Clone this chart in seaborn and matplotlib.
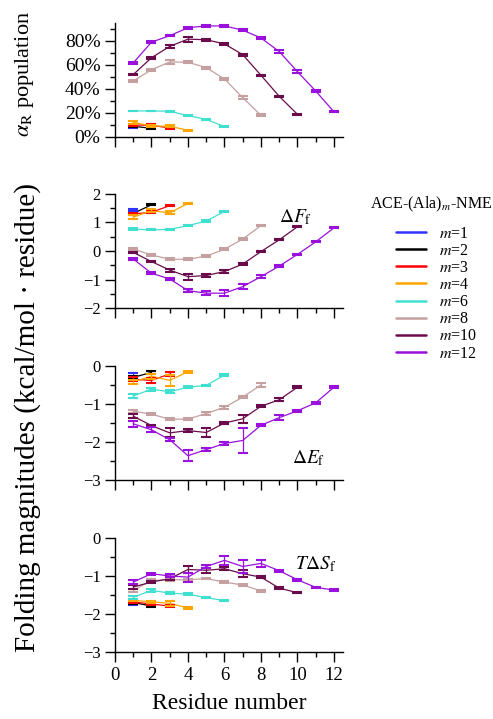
import matplotlib
matplotlib.use("Agg")
import matplotlib.pyplot as plt
from matplotlib.lines import Line2D
from matplotlib.ticker import MultipleLocator, PercentFormatter
import numpy as np
import pandas as pd
import seaborn as sns

# peptide lengths and their colours
M_VALUES = [1, 2, 3, 4, 6, 8, 10, 12]
COLORS = ["#3333ff", "#000000", "#ff0000", "#ffa500", "#40e0d0",
          "#c4a0a0", "#6a0c4c", "#9a10dc"]

# alpha_R population per residue (fraction)
ALPHA = {
    1: [0.083],
    2: [0.089, 0.072],
    3: [0.100, 0.097, 0.075],
    4: [0.122, 0.092, 0.089, 0.056],
    6: [0.217, 0.217, 0.214, 0.178, 0.147, 0.086],
    8: [0.467, 0.560, 0.625, 0.622, 0.578, 0.483, 0.328, 0.180],
    10: [0.520, 0.660, 0.755, 0.815, 0.810, 0.775, 0.686, 0.514, 0.339, 0.189],
    12: [0.617, 0.790, 0.844, 0.910, 0.925, 0.925, 0.890, 0.825, 0.712, 0.544, 0.383, 0.210],
}
ALPHA_ERR = {
    1: [0.008],
    2: [0.008, 0.005],
    3: [0.010, 0.008, 0.006],
    4: [0.012, 0.008, 0.010, 0.004],
    6: [0.003, 0.003, 0.003, 0.004, 0.004, 0.004],
    8: [0.008, 0.010, 0.015, 0.008, 0.008, 0.010, 0.010, 0.008],
    10: [0.006, 0.008, 0.014, 0.022, 0.010, 0.008, 0.008, 0.006, 0.004, 0.004],
    12: [0.006, 0.010, 0.006, 0.008, 0.006, 0.010, 0.010, 0.010, 0.010, 0.010, 0.006, 0.004],
}

# folding free energy per residue (kcal/mol)
DF = {
    1: [1.44],
    2: [1.32, 1.62],
    3: [1.30, 1.36, 1.59],
    4: [1.19, 1.41, 1.34, 1.67],
    6: [0.77, 0.74, 0.76, 0.89, 1.05, 1.39],
    8: [0.07, -0.14, -0.29, -0.29, -0.18, 0.06, 0.42, 0.89],
    10: [-0.05, -0.37, -0.67, -0.90, -0.86, -0.72, -0.46, -0.02, 0.39, 0.85],
    12: [-0.28, -0.78, -0.98, -1.39, -1.48, -1.48, -1.25, -0.90, -0.53, -0.12, 0.32, 0.81],
}
DF_ERR = {
    1: [0.03],
    2: [0.03, 0.02],
    3: [0.03, 0.03, 0.02],
    4: [0.08, 0.05, 0.05, 0.02],
    6: [0.02, 0.02, 0.02, 0.02, 0.02, 0.02],
    8: [0.04, 0.03, 0.04, 0.03, 0.03, 0.04, 0.04, 0.03],
    10: [0.03, 0.03, 0.05, 0.10, 0.05, 0.04, 0.03, 0.02, 0.02, 0.02],
    12: [0.03, 0.04, 0.04, 0.04, 0.06, 0.10, 0.08, 0.06, 0.04, 0.03, 0.02, 0.02],
}

# folding enthalpy per residue (kcal/mol)
DE = {
    1: [-0.24],
    2: [-0.30, -0.17],
    3: [-0.35, -0.38, -0.21],
    4: [-0.42, -0.27, -0.38, -0.15],
    6: [-0.79, -0.61, -0.68, -0.56, -0.51, -0.24],
    8: [-1.19, -1.27, -1.40, -1.40, -1.25, -1.09, -0.82, -0.50],
    10: [-1.32, -1.57, -1.76, -1.70, -1.75, -1.50, -1.39, -1.06, -0.89, -0.56],
    12: [-1.52, -1.68, -1.94, -2.36, -2.20, -2.04, -1.96, -1.56, -1.36, -1.18, -0.97, -0.56],
}
DE_ERR = {
    1: [0.05],
    2: [0.04, 0.03],
    3: [0.05, 0.06, 0.05],
    4: [0.06, 0.06, 0.14, 0.03],
    6: [0.05, 0.04, 0.04, 0.02, 0.02, 0.02],
    8: [0.04, 0.02, 0.02, 0.02, 0.03, 0.05, 0.02, 0.05],
    10: [0.05, 0.03, 0.12, 0.05, 0.12, 0.03, 0.10, 0.03, 0.04, 0.03],
    12: [0.08, 0.07, 0.04, 0.15, 0.05, 0.03, 0.34, 0.03, 0.06, 0.02, 0.02, 0.02],
}

# T * folding entropy per residue (kcal/mol)
TDS = {
    1: [-1.74],
    2: [-1.70, -1.79],
    3: [-1.68, -1.74, -1.79],
    4: [-1.64, -1.68, -1.72, -1.84],
    6: [-1.56, -1.38, -1.45, -1.48, -1.57, -1.65],
    8: [-1.38, -1.12, -1.10, -1.10, -1.07, -1.16, -1.24, -1.39],
    10: [-1.29, -1.16, -1.07, -0.83, -0.85, -0.81, -0.94, -1.03, -1.32, -1.44],
    12: [-1.16, -0.94, -1.00, -1.03, -0.75, -0.59, -0.75, -0.67, -0.86, -1.10, -1.30, -1.37],
}
TDS_ERR = {
    1: [0.03],
    2: [0.03, 0.02],
    3: [0.02, 0.02, 0.02],
    4: [0.03, 0.03, 0.07, 0.02],
    6: [0.04, 0.03, 0.02, 0.02, 0.02, 0.02],
    8: [0.03, 0.03, 0.02, 0.02, 0.02, 0.02, 0.02, 0.02],
    10: [0.05, 0.03, 0.04, 0.08, 0.06, 0.04, 0.10, 0.02, 0.02, 0.02],
    12: [0.06, 0.03, 0.04, 0.12, 0.04, 0.12, 0.17, 0.10, 0.03, 0.02, 0.02, 0.02],
}

sns.set_theme(style="ticks")
plt.rcParams["font.family"] = ["Liberation Serif", "DejaVu Serif"]
plt.rcParams["mathtext.fontset"] = "stix"
plt.rcParams["axes.linewidth"] = 1.0
plt.rcParams["text.color"] = "black"


def to_long(values, errors):
    rows = []
    for m in M_VALUES:
        for i, (v, e) in enumerate(zip(values[m], errors[m])):
            rows.append({"m": m, "residue": i + 1, "value": v, "err": e})
    return pd.DataFrame(rows)


def draw_panel(ax, values, errors):
    df = to_long(values, errors)
    palette = dict(zip(M_VALUES, COLORS))
    sns.lineplot(data=df, x="residue", y="value", hue="m", palette=palette,
                 legend=False, lw=0.9, ax=ax)
    for m in M_VALUES:
        sub = df[df["m"] == m]
        ax.errorbar(sub["residue"], sub["value"], yerr=sub["err"], fmt="none",
                    ecolor=palette[m], elinewidth=0.9, capsize=3.4, capthick=1.5)
    ax.set_xlim(0, 12.5)
    ax.xaxis.set_major_locator(MultipleLocator(2))
    ax.xaxis.set_minor_locator(MultipleLocator(1))
    ax.tick_params(which="major", direction="out", length=7, width=1.0,
                   labelsize=12, colors="black")
    ax.tick_params(which="minor", direction="out", length=3.5, width=1.0,
                   colors="black")
    for s in ax.spines.values():
        s.set_color("black")
    ax.set_xlabel("")
    ax.set_ylabel("")
    sns.despine(ax=ax)


fig = plt.figure(figsize=(4.93, 7.19), dpi=100)
left, width, height = 0.2333, 0.4625, 0.1586
bottoms = [0.8095, 0.5716, 0.3324, 0.0932]
axes = [fig.add_axes([left, b, width, height]) for b in bottoms]

# panel 1: alpha population
ax = axes[0]
draw_panel(ax, ALPHA, ALPHA_ERR)
ax.set_ylim(0, 0.95)
ax.yaxis.set_major_locator(MultipleLocator(0.2))
ax.yaxis.set_minor_locator(MultipleLocator(0.1))
ax.yaxis.set_major_formatter(PercentFormatter(xmax=1, decimals=0))
ax.tick_params(axis="y", labelsize=14)
ax.tick_params(axis="x", labelbottom=False)

# panel 2: free energy
ax = axes[1]
draw_panel(ax, DF, DF_ERR)
ax.set_ylim(-2, 2)
ax.yaxis.set_major_locator(MultipleLocator(1))
ax.yaxis.set_minor_locator(MultipleLocator(0.5))
ax.tick_params(axis="x", labelbottom=False)
ax.text(9.9, 1.2, r"$\Delta F_{\mathrm{f}}$", fontsize=14, ha="center", va="center")

# panel 3: enthalpy
ax = axes[2]
draw_panel(ax, DE, DE_ERR)
ax.set_ylim(-3, 0)
ax.yaxis.set_major_locator(MultipleLocator(1))
ax.yaxis.set_minor_locator(MultipleLocator(0.5))
ax.tick_params(axis="x", labelbottom=False)
ax.text(10.6, -2.42, r"$\Delta E_{\mathrm{f}}$", fontsize=14, ha="center", va="center")

# panel 4: entropy
ax = axes[3]
draw_panel(ax, TDS, TDS_ERR)
ax.set_ylim(-3, 0)
ax.yaxis.set_major_locator(MultipleLocator(1))
ax.yaxis.set_minor_locator(MultipleLocator(0.5))
ax.tick_params(axis="x", labelsize=13.5)
ax.text(11.0, -0.70, r"$T\Delta S_{\mathrm{f}}$", fontsize=14, ha="center", va="center")
ax.set_xlabel("Residue number", fontsize=17, labelpad=7, color="black")

fig.text(25 / 493, 1 - 74 / 719, r"$\alpha_{\mathrm{R}}$ population",
         rotation=90, fontsize=16, ha="center", va="center")
fig.text(28 / 493, 1 - 418 / 719, "Folding magnitudes (kcal/mol \u00b7 residue)",
         rotation=90, fontsize=21, ha="center", va="center")

# legend: title as separate text so the gap below it matches
fig.text(431 / 493, 1 - 204 / 719, r"ACE-(Ala)$_m$-NME", fontsize=11.5,
         ha="center", va="center")
handles = [Line2D([], [], color=c, lw=1.8) for c in COLORS]
labels = [rf"$m$={m}" for m in M_VALUES]
fig.legend(handles, labels, loc="upper left", bbox_to_anchor=(0.790, 0.695),
           borderaxespad=0, frameon=False, fontsize=11.5, handlelength=1.9,
           labelspacing=0.07, handletextpad=0.8)

fig.savefig("out.png", dpi=100)
